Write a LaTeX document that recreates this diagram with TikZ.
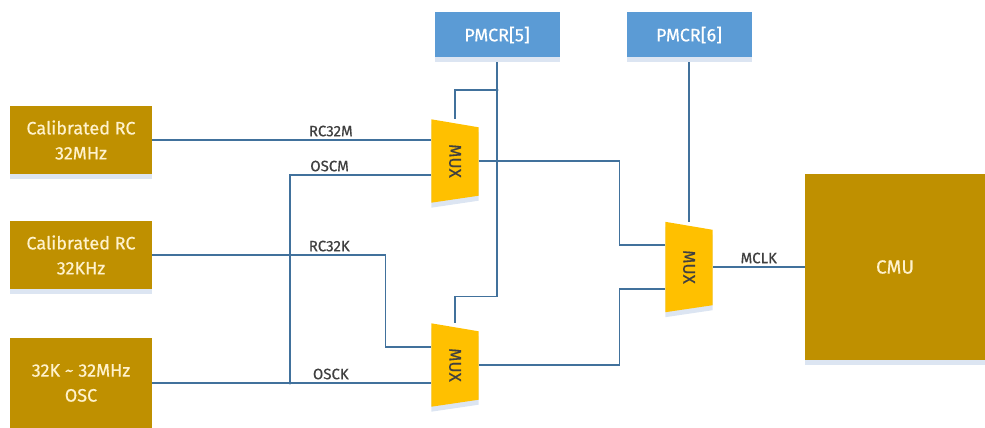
\documentclass[tikz,border=0pt]{standalone}
\usepackage{fontspec}
\setmainfont{Fira Sans}[FakeBold=0.5]
\usepackage{tikz}
\usetikzlibrary{arrows.meta,positioning,calc,backgrounds,shadows}
\definecolor{gold}{HTML}{BF9000}
\definecolor{paleyellow}{HTML}{FFF2CC}
\definecolor{muxorange}{HTML}{FFC000}
\definecolor{regblue}{HTML}{5B9BD5}
\definecolor{wireblue}{HTML}{41719C}
\definecolor{softdropblue}{HTML}{DCE5F2}
\definecolor{labelgray}{HTML}{404040}

\begin{document}
\begin{tikzpicture}[
 x=1pt,y=-1pt,
 softdrop/.style={drop shadow={shadow xshift=0pt,shadow yshift=-5pt,fill=softdropblue,opacity=1}},
 src/.style={rectangle,fill=gold,text=paleyellow,align=center,minimum width=142pt,minimum height=68pt,font=\fontsize{18}{25}\selectfont,softdrop},
 reg/.style={rectangle,fill=regblue,text=white,minimum width=125pt,minimum height=45pt,font=\fontsize{18}{20}\selectfont,softdrop},
 mux/.style={rectangle,inner sep=0pt,minimum width=47pt,minimum height=83pt,text=labelgray,font=\fontsize{17}{18}\selectfont},
 wire/.style={draw=wireblue,line width=1.2pt},
 lbl/.style={text=labelgray,font=\fontsize{15}{18}\selectfont,inner sep=3pt}
]
\useasboundingbox (0,0) rectangle (985,428);
\node[src] (rc32m) at (81,140) {Calibrated RC\\32MHz};
\node[src] (rc32k) at (81,255) {Calibrated RC\\32KHz};
\node[src,minimum height=90pt] (osc) at (81,383) {32K \textasciitilde{} 32MHz\\OSC};
\node[reg] (pmcr5) at (497,35) {PMCR[5]};
\node[reg] (pmcr6) at (689,35) {PMCR[6]};
\node[mux] (muxm) at (455,161) {\rotatebox{-90}{MUX}};
\node[mux] (muxk) at (455,365) {\rotatebox{-90}{MUX}};
\node[mux,minimum height=90pt] (muxc) at (689,267) {\rotatebox{-90}{MUX}};
\node[src,minimum width=180pt,minimum height=186pt,font=\fontsize{19}{22}\selectfont] (cmu) at (895,267) {CMU};
\coordinate (osctap) at (290,383);
\coordinate (tap5) at (497,90);

\begin{scope}[on background layer]
\draw[wire] (rc32m.east) -- node[lbl,above,pos=0.64]{RC32M} (rc32m.east -| muxm.west);
\draw[wire] (osctap) |- node[lbl,above,pos=0.64]{OSCM} ($(muxm.west)+(0,14)$);
\draw[wire] (rc32k.east) -- node[lbl,above,pos=0.76]{RC32K} ++(233,0) |- ($(muxk.west)+(0,-18)$);
\draw[wire] (osc.east) -- node[lbl,above,pos=0.64]{OSCK} (osc.east -| muxk.west);
\draw[wire] (muxm.east) -- ++(141,0) |- ($(muxc.west)+(0,-22)$);
\draw[wire] (muxk.east) -- ++(141,0) |- ($(muxc.west)+(0,22)$);
\draw[wire] (muxc.east) -- node[lbl,above]{MCLK} (cmu.west);
\draw[wire] (pmcr5.south) -- ++(0,239) -| (muxk.north);
\draw[wire] (tap5) -| (muxm.north);
\draw[wire] (pmcr6.south) -- (muxc.north);
\fill[wireblue] (osctap) circle (1.5pt);
\fill[wireblue] (tap5) circle (1.5pt);
\foreach \m in {muxm,muxk,muxc}
 \fill[muxorange,softdrop] (\m.north west) -- ($(\m.north east)+(0,8)$) -- ($(\m.south east)+(0,-7)$) -- (\m.south west) -- cycle;
\end{scope}
\end{tikzpicture}
\end{document}
